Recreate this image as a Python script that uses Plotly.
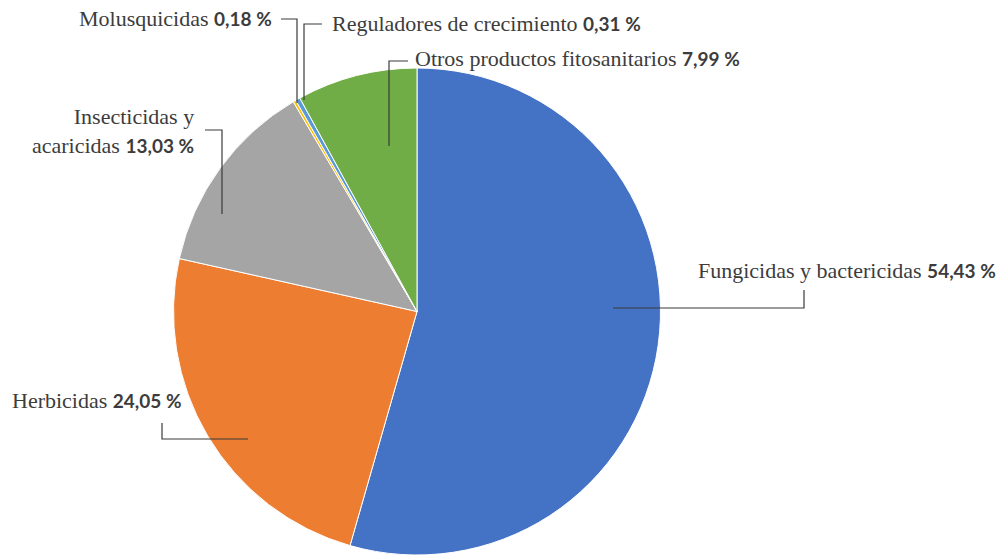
import plotly.graph_objects as go

categories = ["Fungicidas y bactericidas", "Herbicidas", "Insecticidas y<br>acaricidas",
              "Molusquicidas", "Reguladores de crecimiento", "Otros productos fitosanitarios"]
values = [54.43, 24.05, 13.03, 0.18, 0.31, 7.99]
value_labels = ["54,43 %", "24,05 %", "13,03 %", "0,18 %", "0,31 %", "7,99 %"]
colors = ["#4472C4", "#ED7D31", "#A5A5A5", "#FFC000", "#5B9BD5", "#70AD47"]

W, H = 1008, 555
CX, CY, R = 417, 312, 244

def px(x):
    return x / W

def py(y):
    return 1 - y / H

fig = go.Figure(go.Pie(
    labels=categories, values=values, sort=False, direction="clockwise", rotation=0,
    marker=dict(colors=colors, line=dict(color="white", width=1)),
    textinfo="none", hoverinfo="label+percent", showlegend=False,
    domain=dict(x=[px(CX - R), px(CX + R)], y=[0, py(CY - R)]),
))

# label placement (pixels): x, y, anchor
label_pos = [(696, 270, "left"), (10, 400, "left"), (196, 131, "right"),
             (274, 18, "right"), (330, 23, "left"), (413, 58, "left")]
# leader line paths (pixels)
leaders = [
    [(613, 308), (804, 308), (804, 290)],
    [(248, 439), (162, 439), (162, 423)],
    [(222, 214), (222, 130), (205, 130)],
    [(297, 103), (297, 19), (281, 19)],
    [(304, 100), (304, 24), (322, 24)],
    [(389, 146), (389, 61), (408, 61)],
]

annotations = []
for cat, vl, (x, y, anc) in zip(categories, value_labels, label_pos):
    annotations.append(dict(
        x=px(x), y=py(y), xref="paper", yref="paper", xanchor=anc, yanchor="middle",
        align="right" if anc == "right" else "left", showarrow=False,
        text=f"{cat} <span style='font-family:Lato;font-weight:bold;font-size:19px'>{vl}</span>",
        font=dict(family="Liberation Serif", size=22, color="#3c3c3c"),
    ))

shapes = []
for pts in leaders:
    path = "M " + " L ".join(f"{px(x)} {py(y)}" for x, y in pts)
    shapes.append(dict(type="path", xref="paper", yref="paper", path=path,
                       line=dict(color="#3a3a3a", width=1.2)))

fig.update_layout(
    width=W, height=H, margin=dict(l=0, r=0, t=0, b=0),
    paper_bgcolor="white", plot_bgcolor="white",
    annotations=annotations, shapes=shapes,
)
fig.write_html("out.html", config={"displayModeBar": False},
               post_script="document.body.style.margin='0';")
